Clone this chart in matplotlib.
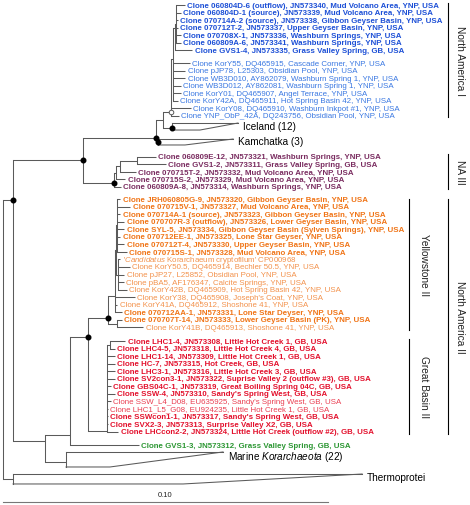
import matplotlib.pyplot as plt

plt.rcParams['font.family'] = ['Liberation Sans', 'DejaVu Sans']
plt.rcParams['mathtext.fontset'] = 'custom'
plt.rcParams['mathtext.rm'] = 'Liberation Sans'
plt.rcParams['mathtext.it'] = 'Liberation Sans:italic'

# internal nodes of the tree (depth in substitutions/site, row = vertical slot)
node_names = ['root', 'in', 'thermo', 'A', 'K', 'NA1', 'O', 'P', 'Bb', 'Bb1', 'ice', 'kam',
              'Pu', 'Pu3', 'Pu2', 'Pu1', 'B', 'C', 'marine', 'D', 'YS', 'Yf', 'Ye', 'Yc',
              'Yd', 'Yb', 'GB', 'GB1']
node_parent = [None, 'root', 'root', 'in', 'A', 'K', 'NA1', 'O', 'P', 'Bb', 'NA1', 'K',
               'A', 'Pu', 'Pu3', 'Pu2', 'in', 'B', 'B', 'C', 'D', 'YS', 'Yf', 'Ye',
               'Ye', 'YS', 'D', 'GB']
node_depth = [0.0, 0.0031, 0.0031, 0.0246, 0.0471, 0.0492, 0.0517, 0.0522, 0.0528, 0.0532,
              0.0520, 0.0477, 0.0342, 0.0348, 0.0360, 0.0412, 0.0129, 0.0206, 0.0194, 0.0262,
              0.0323, 0.0345, 0.0348, 0.0351, 0.0354, 0.0351, 0.0320, 0.0329]
node_row = [40.0, 25.83, 62.78, 20.53, 17.55, 15.23, 14.17, 7.2, 3.0, 2.5,
            16.29, 18.21, 23.58, 22.2, 21.35, 20.6, 57.75, 56.95, 60.53, 43.97,
            41.46, 38.6, 32.5, 29.2, 35.7, 42.2, 56.42, 45.0]
strong_nodes = ['in', 'A', 'K', 'kam', 'ice', 'Pu', 'D', 'YS']
weak_nodes = ['O']

# collapsed clades drawn as triangles
clade_nodes = ['ice', 'kam', 'marine', 'thermo']
clade_labels = ['Iceland (12)', 'Kamchatka (3)', 'Marine $\\it{Korarchaeota}$ (22)', 'Thermoprotei']
clade_top_row = [15.63, 17.75, 59.2, 62.12]
clade_bot_row = [16.56, 18.54, 61.19, 63.44]
clade_max_depth = [0.0723, 0.0708, 0.0677, 0.1105]
clade_min_depth = [0.0606, 0.0560, 0.0329, 0.0554]
clade_label_row = [16.0, 18.05, 59.74, 62.5]

leaf_labels = [
    'Clone 060804D-6 (outflow), JN573340, Mud Volcano Area, YNP, USA',
    'Clone 060804D-1 (source), JN573339, Mud Volcano Area, YNP, USA',
    'Clone 070714A-2 (source), JN573338, Gibbon Geyser Basin, YNP, USA',
    'Clone 070712T-2, JN573337, Upper Geyser Basin, YNP, USA',
    'Clone 070708X-1, JN573336, Washburn Springs, YNP, USA',
    'Clone 060809A-6, JN573341, Washburn Springs, YNP, USA',
    'Clone GVS1-4, JN573335, Grass Valley Spring, GB, USA',
    'Clone KorY55, DQ465915, Cascade Corner, YNP, USA',
    'Clone pJP78, L25303, Obsidian Pool, YNP, USA',
    'Clone WB3D010, AY862079, Washburn Spring 1, YNP, USA',
    'Clone WB3D012, AY862081, Washburn Spring 1, YNP, USA',
    'Clone KorY01, DQ465907, Angel Terrace, YNP, USA',
    'Clone KorY42A, DQ465911, Hot Spring Basin 42, YNP, USA',
    'Clone KorY08, DQ465910, Washburn Inkpot #1, YNP, USA',
    'Clone YNP_ObP_42A, DQ243756, Obsidian Pool, YNP, USA',
    'Clone 060809E-12, JN573321, Washburn Springs, YNP, USA',
    'Clone GVS1-2, JN573311, Grass Valley Spring, GB, USA',
    'Clone 070715T-2, JN573332, Mud Volcano Area, YNP, USA',
    'Clone 070715S-2, JN573329, Mud Volcano Area, YNP, USA',
    'Clone 060809A-8, JN573314, Washburn Springs, YNP, USA',
    'Clone JRH060805G-9, JN573320, Gibbon Geyser Basin, YNP, USA',
    'Clone 070715V-1, JN573327, Mud Volcano Area, YNP, USA',
    'Clone 070714A-1 (source), JN573323, Gibbon Geyser Basin, YNP, USA',
    'Clone 070707R-3 (outflow), JN573326, Lower Geyser Basin, YNP, USA',
    'Clone SYL-5, JN573334, Gibbon Geyser Basin (Sylven Springs), YNP, USA',
    'Clone 070712EE-1, JN573325, Lone Star Geyser, YNP, USA',
    'Clone 070712T-4, JN573330, Upper Geyser Basin, YNP, USA',
    'Clone 070715S-1, JN573328, Mud Volcano Area, YNP, USA',
    "'$\\it{Candidatus}$ Korarchaeum cryptofilum' CP000968",
    'Clone KorY50.5, DQ465914, Bechler 50.5, YNP, USA',
    'Clone pJP27, L25852, Obsidian Pool, YNP, USA',
    'Clone pBA5, AF176347, Calcite Springs, YNP, USA',
    'Clone KorY42B, DQ465909, Hot Spring Basin 42, YNP, USA',
    "Clone KorY38, DQ465908, Joseph's Coat, YNP, USA",
    'Clone KorY41A, DQ465912, Shoshone 41, YNP, USA',
    'Clone 070712AA-1, JN573331, Lone Star Deyser, YNP, USA',
    'Clone 070707T-14, JN573333, Lower Geyser Basin (PK), YNP, USA',
    'Clone KorY41B, DQ465913, Shoshone 41, YNP, USA',
    'Clone LHC1-4, JN573308, Little Hot Creek 1, GB, USA',
    'Clone LHC4-5, JN573318, Little Hot Creek 4, GB, USA',
    'Clone LHC1-14, JN573309, Little Hot Creek 1, GB, USA',
    'Clone HC-7, JN573315, Hot Creek, GB, USA',
    'Clone LHC3-1, JN573316, Little Hot Creek 3, GB, USA',
    'Clone SV2con3-1, JN573322, Suprise Valley 2 (outflow #3), GB, USA',
    'Clone GBS04C-1, JN573319, Great Boiling Spring 04C, GB, USA',
    "Clone SSW-4, JN573310, Sandy's Spring West, GB, USA",
    "Clone SSW_L4_D08, EU635925, Sandy's Spring West, GB, USA",
    'Clone LHC1_L5_G08, EU924235, Little Hot Creek 1, GB, USA',
    "Clone SSWcon1-1, JN573317, Sandy's Spring West, GB, USA",
    'Clone SVX2-3, JN573313, Surprise Valley X2, GB, USA',
    'Clone LHCcon2-2, JN573324, Little Hot Creek (outflow #2), GB, USA',
    'Clone GVS1-3, JN573312, Grass Valley Spring, GB, USA',
]
leaf_parent = (['Bb1'] * 6 + ['Bb'] + ['P'] * 6 + ['O'] * 2 + ['Pu1'] * 2 + ['Pu2', 'Pu3', 'Pu']
               + ['Yc'] * 8 + ['Yd'] * 5 + ['Yf'] * 3 + ['Yb'] * 2 + ['GB1'] * 2 + ['GB'] * 11 + ['C'])
leaf_depth = [0.0559, 0.0547, 0.0537, 0.0537, 0.0547, 0.0547, 0.0583,
              0.0575, 0.0561, 0.0561, 0.0547, 0.0547, 0.0537, 0.0578, 0.0540,
              0.0470, 0.0501, 0.0409, 0.0376, 0.0362,
              0.0361, 0.0392, 0.0361, 0.0373, 0.0373, 0.0361, 0.0373, 0.0381,
              0.0361, 0.0390, 0.0373, 0.0371, 0.0381, 0.0406, 0.0352, 0.0366, 0.0366, 0.0431,
              0.0376, 0.0344, 0.0344, 0.0344, 0.0344, 0.0344, 0.0332, 0.0344, 0.0332,
              0.0322, 0.0322, 0.0322, 0.0355,
              0.0417]
leaf_row = [0, 1, 2, 3, 4, 5, 6,
            7.7, 8.7, 9.7, 10.7, 11.7, 12.7, 13.7, 14.7,
            20.1, 21.1, 22.1, 23.1, 24.1,
            25.7, 26.7, 27.7, 28.7, 29.7, 30.7, 31.7, 32.7, 33.7, 34.7, 35.7, 36.7, 37.7,
            38.7, 39.7, 40.7, 41.7, 42.7,
            44.5, 45.5, 46.5, 47.5, 48.5, 49.5, 50.5, 51.5, 52.5, 53.5, 54.5, 55.5, 56.5,
            58.3]
leaf_group = (['NA I'] * 15 + ['NA III'] * 5 + ['YS II'] * 18 + ['GB II'] * 13 + ['GVS'])
leaf_bold = ([True] * 7 + [False] * 8 + [True] * 13 + [False] * 7 + [True, True, False]
             + [True] * 8 + [False, False] + [True] * 3 + [True])

group_colors = {'NA I': ('#1c4fd6', '#3a78e2'), 'NA III': ('#7a2c60', '#7a2c60'),
                'YS II': ('#f07416', '#f3924c'), 'GB II': ('#e3102c', '#ea3f52'),
                'GVS': ('#2b9632', '#2b9632')}

# brackets on the right
bracket_labels = ['North America I', 'NA III', 'Yellowstone II', 'Great Basin II', 'North America II']
bracket_depth = [0.1369, 0.1369, 0.1249, 0.1249, 0.1369]
bracket_top = [-0.26, 19.73, 25.7, 44.24, 25.7]
bracket_bot = [14.83, 24.37, 43.05, 56.82, 56.82]
bracket_text_depth = [0.1406, 0.1406, 0.1295, 0.1295, 0.1406]

line_c = '#5a5a5a'
lw = 0.75

fig = plt.figure(figsize=(4.7, 5.06), dpi=100)
ax = fig.add_axes([0, 0, 1, 1])
ax.set_xlim(-0.000923, 0.143692)
ax.set_ylim(66.225, -0.795)
ax.axis('off')

depth = dict(zip(node_names, node_depth))
row = dict(zip(node_names, node_row))
children = {n: [] for n in node_names}
for n, p in zip(node_names, node_parent):
    if p is not None:
        children[p].append(row[n])
        ax.plot([depth[p], depth[n]], [row[n], row[n]], color=line_c, lw=lw, solid_capstyle='butt')
for i in range(len(leaf_labels)):
    p = leaf_parent[i]
    children[p].append(leaf_row[i])
    ax.plot([depth[p], leaf_depth[i]], [leaf_row[i], leaf_row[i]], color=line_c, lw=lw,
            solid_capstyle='butt')
    col = group_colors[leaf_group[i]][0 if leaf_bold[i] else 1]
    ax.annotate(leaf_labels[i], (leaf_depth[i], leaf_row[i]), xytext=(1.8, 0),
                textcoords='offset points', va='center', ha='left', fontsize=5.7,
                color=col, fontweight='bold' if leaf_bold[i] else 'normal')

# vertical connectors
for n in node_names:
    if children[n]:
        ax.plot([depth[n], depth[n]], [min(children[n]), max(children[n])], color=line_c, lw=lw)

# collapsed clades
for i, n in enumerate(clade_nodes):
    x0 = depth[n]
    ax.plot([x0, x0], [clade_top_row[i], clade_bot_row[i]], color=line_c, lw=lw)
    ax.plot([x0, clade_max_depth[i]], [clade_top_row[i], clade_top_row[i]], color=line_c, lw=lw)
    ax.plot([x0, clade_min_depth[i], clade_max_depth[i]],
            [clade_bot_row[i], clade_bot_row[i], clade_top_row[i]], color=line_c, lw=lw)
    ax.annotate(clade_labels[i], (clade_max_depth[i], clade_label_row[i]), xytext=(3.5, 0),
                textcoords='offset points', va='center', ha='left', fontsize=7.2, color='black')

# support dots
for n in strong_nodes:
    ax.plot(depth[n], row[n], 'o', color='black', markersize=3.3, zorder=5)
for n in weak_nodes:
    ax.plot(depth[n], row[n], 'o', mfc='white', mec=line_c, mew=0.7, markersize=3.3, zorder=5)

# clade brackets
for i, lab in enumerate(bracket_labels):
    ax.plot([bracket_depth[i], bracket_depth[i]], [bracket_top[i], bracket_bot[i]], color='black', lw=0.8)
    ax.text(bracket_text_depth[i], (bracket_top[i] + bracket_bot[i]) / 2, lab, rotation=-90,
            ha='center', va='center', fontsize=7.3, color='#222222')

# scale bar
scale_len = 0.10
ax.plot([0, scale_len], [65.83, 65.83], color='#777777', lw=0.8)
ax.text(scale_len / 2, 64.77, '0.10', ha='center', va='center', fontsize=5.5, color='#222222')

fig.savefig('out.png', dpi=100)
